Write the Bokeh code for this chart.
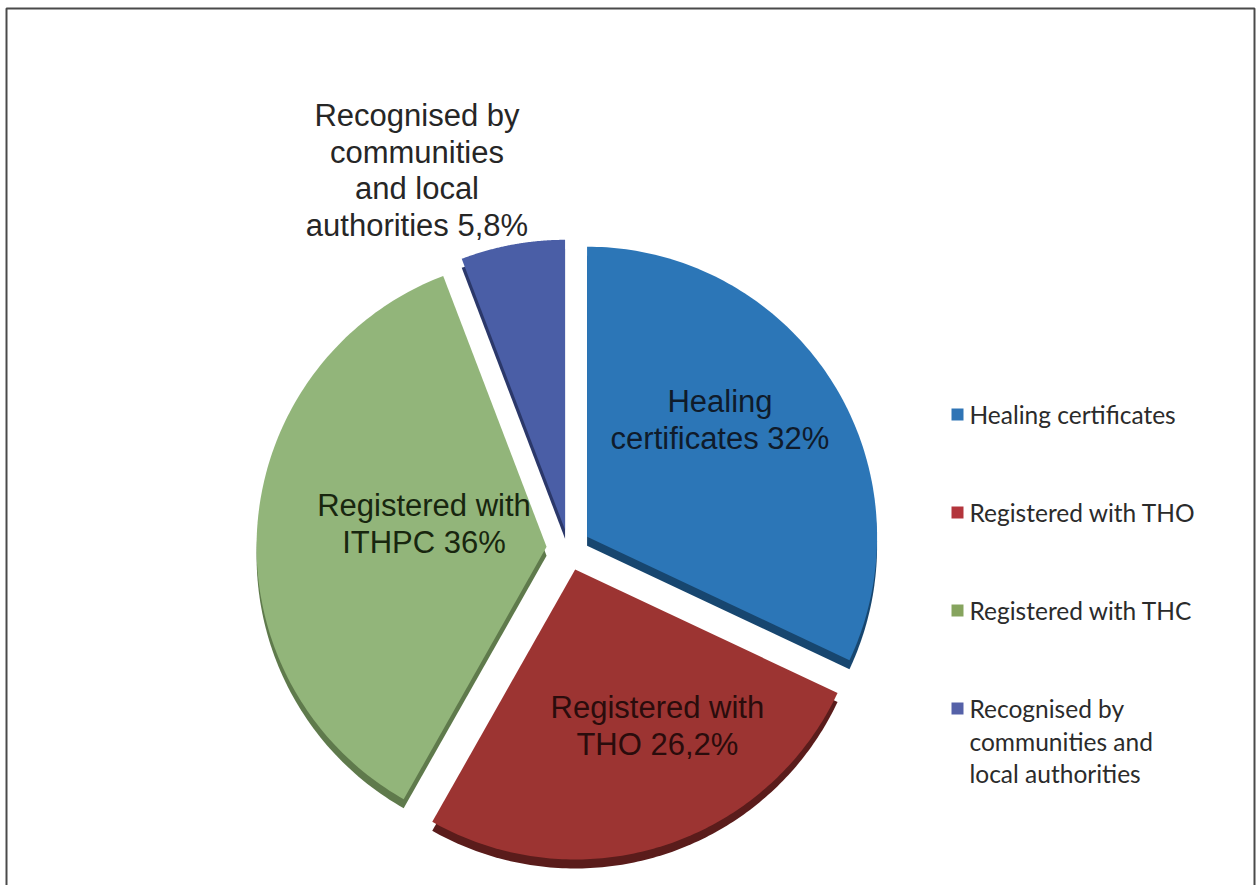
import numpy as np
from bokeh.plotting import figure
from bokeh.models import Range1d
from bokeh.core.properties import value
from bokeh.embed import file_html
from bokeh.resources import INLINE

# ---- data ----
categories = ["Healing certificates", "Registered with THO",
              "Registered with THC", "Recognised by communities and local authorities"]
shares = [32.0, 26.2, 36.0, 5.8]
slice_labels = ["Healing\ncertificates 32%", "Registered with\nTHO 26,2%",
                "Registered with\nITHPC 36%", "Recognised by\ncommunities\nand local\nauthorities 5,8%"]
legend_labels = ["Healing certificates", "Registered with THO", "Registered with THC",
                 "Recognised by\ncommunities and\nlocal authorities"]

# ---- style ----
top_colors = ["#2c76b7", "#9c3432", "#92b57a", "#4a5ea6"]
side_colors = ["#17466f", "#5a1c1b", "#5f7a4c", "#2b386a"]
legend_colors = ["#2f74b5", "#b3353c", "#86a45e", "#5561a8"]
label_colors = ["#0f1b2b", "#2a0c0c", "#18260f", "#262626"]

W, H = 1259, 885
cx, cy, R = 568, 548, 290
explode = [22, 22, 22, 19]
depth = 9
# label placement relative to each slice apex (angle clockwise from top, radius fraction)
label_ang = [48.7, 152.3, 280.6, 337.6]
label_rf = [0.61, 0.61, 0.43, 1.34]

p = figure(width=W, height=H, x_range=Range1d(0, W), y_range=Range1d(H, 0),
           output_backend="svg", toolbar_location=None, min_border=0,
           background_fill_color="white", border_fill_color="white")
p.axis.visible = False
p.grid.visible = False
p.outline_line_color = None

total = sum(shares)
start = 0.0
tops_x, tops_y, sides_x, sides_y = [], [], [], []
lab_x, lab_y = [], []
for i, v in enumerate(shares):
    a0 = start
    a1 = start + v / total * 360.0
    start = a1
    mid = np.radians((a0 + a1) / 2)
    ox = cx + explode[i] * np.sin(mid)
    oy = cy - explode[i] * np.cos(mid)
    t = np.radians(np.linspace(a0, a1, 120))
    x = np.concatenate([[ox], ox + R * np.sin(t)])
    y = np.concatenate([[oy], oy - R * np.cos(t)])
    tops_x.append(list(x)); tops_y.append(list(y))
    sides_x.append(list(x)); sides_y.append(list(y + depth))
    la = np.radians(label_ang[i])
    lab_x.append(ox + label_rf[i] * R * np.sin(la))
    lab_y.append(oy - label_rf[i] * R * np.cos(la))

p.patches(sides_x, sides_y, fill_color=side_colors, line_color=None)
p.patches(tops_x, tops_y, fill_color=top_colors, line_color=None)

p.text(lab_x, lab_y, text=slice_labels, text_color=label_colors,
       text_font=value("Liberation Sans"), text_font_size="31px",
       text_align="center", text_baseline="middle", text_line_height=1.04)

# legend
leg_x0, leg_y0, leg_dy, line_dy = 957, 414, 98, 32.5
sq_x, sq_y, tx, ty, tt = [], [], [], [], []
for i, lab in enumerate(legend_labels):
    yy = leg_y0 + i * leg_dy
    sq_x.append(leg_x0); sq_y.append(yy)
    for j, line in enumerate(lab.split("\n")):
        tx.append(leg_x0 + 12); ty.append(yy + j * line_dy); tt.append(line)
p.scatter(sq_x, sq_y, marker="square", size=12, fill_color=legend_colors, line_color=None)
p.text(tx, ty, text=tt, text_color="#2b2b2b", text_font=value("Lato"),
       text_font_size="24.5px", text_align="left", text_baseline="middle")

# chart border
p.line([6, 6, 1254, 1254], [885, 8, 8, 885], line_color="#4a4a4a", line_width=2)

open("out.html", "w").write(file_html(p, INLINE))
